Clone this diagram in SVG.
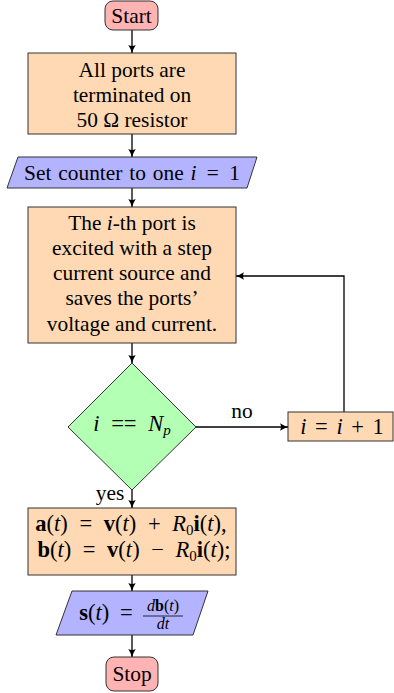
<svg xmlns="http://www.w3.org/2000/svg" width="394" height="693" viewBox="0 0 394 693">
<defs>
<marker id="arr" markerWidth="10" markerHeight="10" refX="8" refY="4" orient="auto" markerUnits="userSpaceOnUse">
<path d="M0,0.3 Q4,3 8.5,4 Q4,5 0,7.7 Q2,4 0,0.3 z" fill="#000"/>
</marker>
<style>
.t{font-family:"Liberation Serif","Times New Roman",serif;font-size:21.4px;fill:#000;text-anchor:middle}
.mt{font-size:22.5px}
.m{font-style:italic}
.b{font-weight:bold}
.s{font-size:16px}
.sub{font-size:15px}
.term{fill:#ffb3b3;stroke:#333;stroke-width:1}
.proc{fill:#ffd9b3;stroke:#333;stroke-width:1}
.io{fill:#b3b3ff;stroke:#333;stroke-width:1}
.dec{fill:#b3ffb3;stroke:#333;stroke-width:1}
.c{fill:none;stroke:#000;stroke-width:1.3;marker-end:url(#arr)}
</style>
</defs>
<g id="connectors">
<line class="c" x1="132" y1="30" x2="132" y2="53"/>
<line class="c" x1="132" y1="134" x2="132" y2="157"/>
<line class="c" x1="132" y1="188" x2="132" y2="207"/>
<line class="c" x1="132" y1="343" x2="132" y2="363"/>
<line class="c" x1="196" y1="427" x2="288" y2="427"/>
<polyline class="c" points="344,412 344,276 236,276"/>
<line class="c" x1="132" y1="489" x2="132" y2="508"/>
<line class="c" x1="132" y1="575" x2="132" y2="591"/>
<line class="c" x1="132" y1="635" x2="132" y2="657"/>
<text class="t" x="242" y="418">no</text>
<text class="t" x="110" y="500">yes</text>
</g>
<g id="start">
<rect class="term" x="105" y="1" width="53" height="29" rx="8"/>
<text class="t" x="131.5" y="23">Start</text>
</g>
<g id="terminate">
<rect class="proc" x="28" y="53" width="208" height="81"/>
<text class="t" x="132" y="77">All ports are</text>
<text class="t" x="132" y="102">terminated on</text>
<text class="t" x="132" y="127">50 Ω resistor</text>
</g>
<g id="counter">
<polygon class="io" points="18,157 257,157 247,188 7,188"/>
<text class="t" x="132" y="180" word-spacing="1.5">Set counter to one <tspan class="m">i</tspan><tspan word-spacing="5"> = 1</tspan></text>
</g>
<g id="excite">
<rect class="proc" x="28" y="207" width="208" height="136"/>
<text class="t" x="132" y="230">The <tspan class="m">i</tspan>-th port is</text>
<text class="t" x="132" y="255">excited with a step</text>
<text class="t" x="132" y="280">current source and</text>
<text class="t" x="132" y="305">saves the ports’</text>
<text class="t" x="132" y="331">voltage and current.</text>
</g>
<g id="decision">
<polygon class="dec" points="132,363 196,427 132,490 68,427"/>
<text class="t mt" x="132" y="431" word-spacing="6"><tspan class="m">i</tspan> == <tspan class="m">N</tspan><tspan class="m sub" dy="4">p</tspan></text>
</g>
<g id="increment">
<rect class="proc" x="288" y="412" width="105" height="29"/>
<text class="t mt" x="342" y="434" word-spacing="3"><tspan class="m">i</tspan> = <tspan class="m">i</tspan> + 1</text>
</g>
<g id="waves">
<rect class="proc" x="28" y="508" width="208" height="67"/>
<text class="t mt" x="131" y="531" word-spacing="6"><tspan class="b">a</tspan>(<tspan class="m">t</tspan>) = <tspan class="b">v</tspan>(<tspan class="m">t</tspan>) + <tspan class="m">R</tspan><tspan class="sub" dy="4">0</tspan><tspan class="b" dy="-4">i</tspan>(<tspan class="m">t</tspan>),</text>
<text class="t mt" x="134" y="557" word-spacing="6"><tspan class="b">b</tspan>(<tspan class="m">t</tspan>) = <tspan class="b">v</tspan>(<tspan class="m">t</tspan>) − <tspan class="m">R</tspan><tspan class="sub" dy="4">0</tspan><tspan class="b" dy="-4">i</tspan>(<tspan class="m">t</tspan>);</text>
</g>
<g id="sparam">
<polygon class="io" points="72,591 208,591 193,635 56,635"/>
<text class="t mt" x="106" y="620" word-spacing="5"><tspan class="b">s</tspan>(<tspan class="m">t</tspan>) =</text>
<text class="t s" x="163" y="611"><tspan class="m">d</tspan><tspan class="b">b</tspan>(<tspan class="m">t</tspan>)</text>
<line x1="143" y1="616" x2="183" y2="616" stroke="#000" stroke-width="0.8"/>
<text class="t s" x="163" y="629"><tspan class="m">dt</tspan></text>
</g>
<g id="stop">
<rect class="term" x="106" y="657" width="52" height="34" rx="8"/>
<text class="t" x="132" y="681">Stop</text>
</g>
</svg>
